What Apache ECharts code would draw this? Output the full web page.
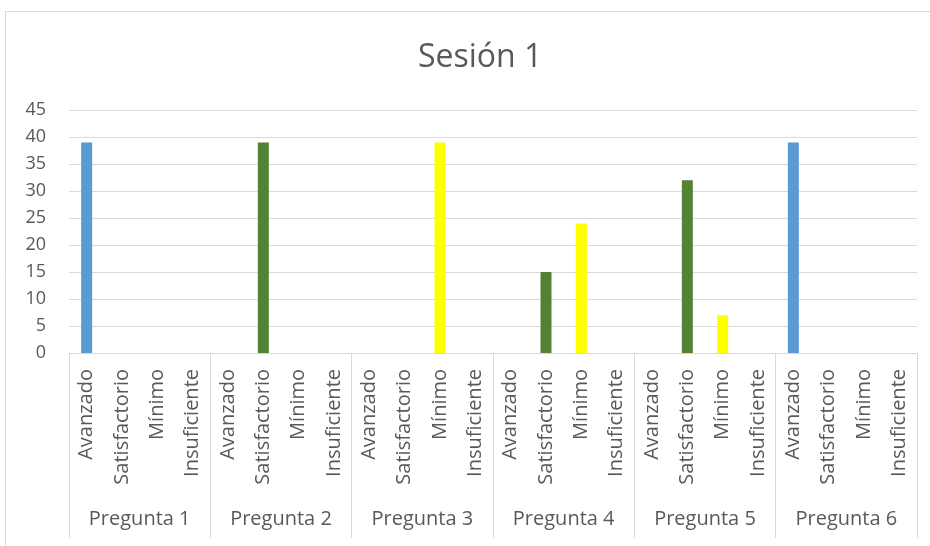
<!DOCTYPE html>
<html>
<head>
<meta charset="utf-8">
<script src="https://cdn.jsdelivr.net/npm/echarts@6/dist/echarts.min.js"></script>
<style>
  html, body { margin: 0; padding: 0; background: #fff; }
  #chart { width: 930px; height: 546px; }
</style>
</head>
<body>
<div id="chart"></div>
<script>
// datos
var preguntas = ['Pregunta 1', 'Pregunta 2', 'Pregunta 3', 'Pregunta 4', 'Pregunta 5', 'Pregunta 6']
var niveles = ['Avanzado', 'Satisfactorio', 'Mínimo', 'Insuficiente']
var pregunta1 = [39, 0, 0, 0]
var pregunta2 = [0, 39, 0, 0]
var pregunta3 = [0, 0, 39, 0]
var pregunta4 = [0, 15, 24, 0]
var pregunta5 = [0, 32, 7, 0]
var pregunta6 = [39, 0, 0, 0]
var yTicks = [0, 5, 10, 15, 20, 25, 30, 35, 40, 45]

// colores por nivel
var colorSet = ['#5b9bd5', '#548235', '#ffff00', '#a5a5a5']
var gris = '#d9d9d9'
var texto = '#595959'
var fuente = 'Open Sans'

var valores = [].concat(pregunta1, pregunta2, pregunta3, pregunta4, pregunta5, pregunta6)
var categorias = []
preguntas.forEach(function () {
  categorias = categorias.concat(niveles)
})

var chart = echarts.init(document.getElementById('chart'))

var option = {
  backgroundColor: '#fff',
  title: {
    text: 'Sesión 1',
    left: 413,
    top: 37,
    textStyle: {
      color: texto,
      fontSize: 32,
      fontWeight: 'normal',
      fontFamily: fuente,
    },
  },
  grid: {
    left: 69,
    right: 13,
    top: 110,
    bottom: 193,
  },
  xAxis: [
    {
      type: 'category',
      data: categorias,
      position: 'bottom',
      axisLine: { show: true, lineStyle: { color: gris, width: 1 } },
      axisTick: { show: false },
      axisLabel: {
        interval: 0,
        rotate: 90,
        margin: 16,
        color: texto,
        fontSize: 20,
        fontFamily: fuente,
      },
    },
    {
      type: 'category',
      data: preguntas,
      position: 'bottom',
      axisLine: { show: false },
      axisTick: {
        show: true,
        interval: 0,
        length: 185,
        lineStyle: { color: gris, width: 1 },
      },
      axisLabel: {
        interval: 0,
        margin: 156,
        color: texto,
        fontSize: 20,
        fontFamily: fuente,
      },
    },
  ],
  yAxis: {
    type: 'value',
    min: yTicks[0],
    max: yTicks[yTicks.length - 1],
    interval: yTicks[1] - yTicks[0],
    axisLine: { show: false },
    axisTick: { show: false },
    axisLabel: {
      margin: 23,
      color: texto,
      fontSize: 18,
      fontFamily: fuente,
    },
    splitLine: { lineStyle: { color: gris, width: 1 } },
  },
  series: [
    {
      type: 'bar',
      xAxisIndex: 0,
      data: valores,
      barWidth: 11,
      itemStyle: {
        color: function (p) {
          return colorSet[p.dataIndex % niveles.length]
        },
      },
      animation: false,
    },
  ],
  graphic: [
    {
      type: 'line',
      shape: { x1: 5.5, y1: 11, x2: 5.5, y2: 546 },
      style: { stroke: gris, lineWidth: 1 },
    },
    {
      type: 'line',
      shape: { x1: 5, y1: 11.5, x2: 930, y2: 11.5 },
      style: { stroke: gris, lineWidth: 1 },
    },
  ],
}
chart.setOption(option)
</script>
</body>
</html>
